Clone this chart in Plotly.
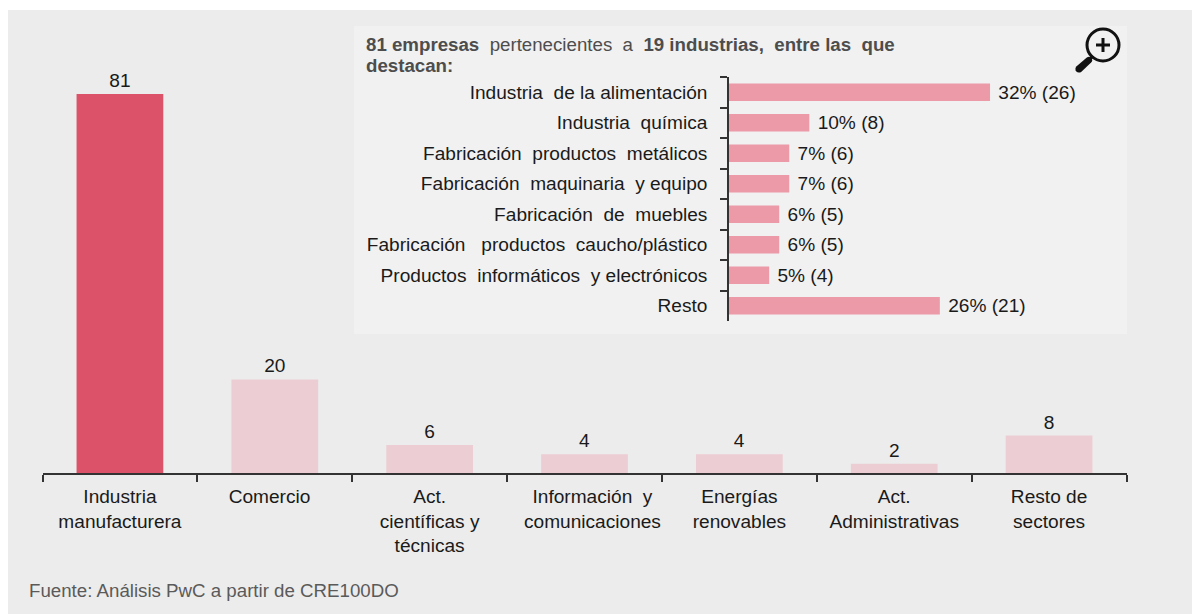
import math
import plotly.graph_objects as go

W, H = 1192, 614
sectors = ["Industria<br>manufacturera", "Comercio  ", "Act.<br>científicas y<br>técnicas",
           "   Información  y<br>   comunicaciones", "Energías<br>renovables",
           "Act.<br>Administrativas", "Resto de<br>sectores"]
sector_values = [81, 20, 6, 4, 4, 2, 8]
sector_colors = ["#dc5269"] + ["#eccdd3"] * 6

industries = ["Industria  de la alimentación", "Industria  química", "Fabricación  productos  metálicos",
              "Fabricación  maquinaria  y equipo", "Fabricación  de  muebles",
              "Fabricación   productos  caucho/plástico", "Productos  informáticos  y electrónicos", "Resto"]
industry_counts = [26, 8, 6, 6, 5, 5, 4, 21]
industry_labels = ["32% (26)", "10% (8)", "7% (6)", "7% (6)", "6% (5)", "6% (5)", "5% (4)", "26% (21)"]

FONT = "Liberation Sans"
SIZE = 19.1
px = lambda v: v / W
py = lambda v: 1 - v / H

fig = go.Figure()
fig.add_trace(go.Bar(x=sectors, y=sector_values, marker=dict(color=sector_colors, line_width=0),
                     text=sector_values, textposition="outside", cliponaxis=False, constraintext="none",
                     textfont=dict(family=FONT, size=SIZE, color="#1a1a1a"), width=0.56,
                     xaxis="x", yaxis="y"))
fig.add_trace(go.Bar(y=industries, x=industry_counts, orientation="h",
                     marker=dict(color="#ec9aa8", line_width=0),
                     text=["\u00a0" + s for s in industry_labels], textposition="outside", cliponaxis=False,
                     constraintext="none",
                     textfont=dict(family=FONT, size=SIZE, color="#1a1a1a"), width=0.57,
                     xaxis="x2", yaxis="y2"))

def rect(x0, y0, x1, y1, color):
    return dict(type="rect", xref="paper", yref="paper", x0=px(x0), x1=px(x1), y0=py(y0), y1=py(y1),
                fillcolor=color, line_width=0, layer="below")

def capsule(x0, y0, x1, y1, r0, r1):
    a = math.atan2(y1 - y0, x1 - x0)
    pts = []
    for i in range(9):
        t = a + math.pi / 2 + math.pi * i / 8
        pts.append((x0 + r0 * math.cos(t), y0 + r0 * math.sin(t)))
    for i in range(9):
        t = a - math.pi / 2 + math.pi * i / 8
        pts.append((x1 + r1 * math.cos(t), y1 + r1 * math.sin(t)))
    return "M" + "L".join(f"{px(a_):.5f},{py(b_):.5f}" for a_, b_ in pts) + "Z"

ink = "#111111"
shapes = [
    rect(8, 10, 1192, 614, "#ececec"),
    rect(354, 26, 1127, 334, "#f1f1f1"),
    dict(type="circle", xref="paper", yref="paper", x0=px(1087), x1=px(1119), y0=py(29), y1=py(61),
         line=dict(color=ink, width=3), fillcolor="rgba(0,0,0,0)"),
    dict(type="path", xref="paper", yref="paper", path=capsule(1092, 57, 1089, 60, 1.5, 1.5),
         fillcolor=ink, line_width=0),
    dict(type="path", xref="paper", yref="paper", path=capsule(1089, 60, 1079, 69, 3.2, 3.6),
         fillcolor=ink, line_width=0),
    dict(type="line", xref="paper", yref="paper", x0=px(1096), y0=py(45), x1=px(1110), y1=py(45),
         line=dict(color=ink, width=3)),
    dict(type="line", xref="paper", yref="paper", x0=px(1103), y0=py(38), x1=px(1103), y1=py(52),
         line=dict(color=ink, width=3)),
]

title_font = dict(family=FONT, size=18.7, color="#4d4d4d")
annotations = [
    dict(text="<b>81 empresas</b>  pertenecientes  a  <b>19 industrias,  entre las  que</b>",
         xref="paper", yref="paper", x=px(364), y=py(44), xanchor="left", yanchor="middle", align="left",
         showarrow=False, font=title_font),
    dict(text="<b>destacan:</b>",
         xref="paper", yref="paper", x=px(364), y=py(65), xanchor="left", yanchor="middle", align="left",
         showarrow=False, font=title_font),
    dict(text="Fuente: Análisis PwC a partir de CRE100DO", xref="paper", yref="paper",
         x=px(27), y=py(590), xanchor="left", yanchor="middle", showarrow=False,
         font=dict(family=FONT, size=18.7, color="#5a5a5a")),
]

fig.update_layout(
    width=W, height=H, autosize=False, margin=dict(l=0, r=0, t=0, b=0),
    paper_bgcolor="#ffffff", plot_bgcolor="rgba(0,0,0,0)", showlegend=False,
    shapes=shapes, annotations=annotations,
    xaxis=dict(domain=[px(42.5), px(1126.5)], anchor="y", type="category", tickson="boundaries",
               ticks="outside", ticklen=7, tickcolor="#333333", tickwidth=1.5,
               showline=True, linecolor="#333333", linewidth=1.5, showgrid=False, tickangle=0,
               tickfont=dict(family=FONT, size=SIZE, color="#1a1a1a"), ticklabelstandoff=5),
    yaxis=dict(domain=[py(473), py(10)], anchor="x", range=[0, 463 / 4.68], visible=False),
    xaxis2=dict(domain=[px(729), px(1127)], anchor="y2", range=[0, 398 / 10.04], visible=False),
    yaxis2=dict(domain=[py(321), py(77)], anchor="x2", type="category", autorange="reversed",
                tickson="boundaries", ticks="outside", ticklen=7, tickcolor="#333333", tickwidth=1.5,
                showline=True, linecolor="#333333", linewidth=1.5, showgrid=False,
                tickfont=dict(family=FONT, size=SIZE, color="#1a1a1a"), ticklabelstandoff=16),
)

fig.write_html("out.html", config=dict(displayModeBar=False),
               post_script="document.body.style.margin='0';")
